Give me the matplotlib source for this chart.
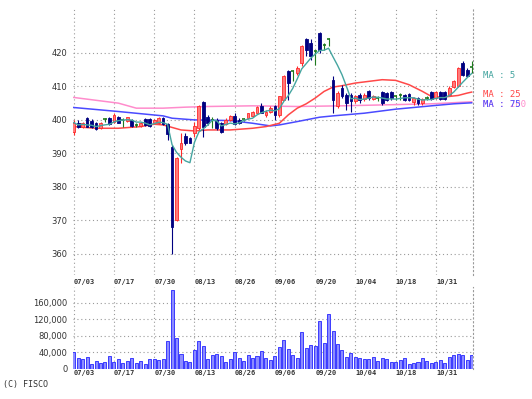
import matplotlib
matplotlib.use("Agg")
import matplotlib.pyplot as plt
import numpy as np
import pandas as pd

# daily candles, 2019-07-03 .. 2019-11-13
opens = [396.3, 399.2, 398.0, 400.5, 399.8, 399.2, 397.5, 400.2, 400.5, 399.5,
         401.0, 400.0, 399.8, 400.0, 398.5, 398.2, 400.2, 400.2, 399.2, 399.0,
         400.5, 398.8, 392.0, 370.0, 391.2, 395.2, 394.5, 396.2, 397.5, 405.2,
         401.0, 400.0, 400.0, 399.0, 398.8, 400.0, 401.2, 400.0, 400.2, 400.5,
         401.2, 402.2, 404.0, 401.5, 402.5, 404.0, 401.5, 406.0, 414.5, 414.5,
         414.0, 417.0, 424.2, 423.0, 420.5, 426.0, 422.5, 424.0, 412.0, 404.0,
         409.5, 407.5, 407.5, 405.5, 407.5, 406.2, 408.5, 406.2, 406.5, 408.2,
         408.0, 408.2, 407.0, 407.5, 407.5, 407.7, 405.2, 406.5, 405.0, 406.5,
         408.2, 406.5, 408.3, 408.2, 407.5, 409.8, 410.0, 417.0, 415.0, 415.8]
highs = [400.0, 400.0, 399.5, 401.0, 400.2, 399.5, 399.5, 400.5, 401.0, 402.0,
         401.2, 400.5, 401.0, 400.3, 399.0, 399.5, 400.5, 400.5, 400.2, 401.0,
         401.0, 399.2, 392.5, 389.0, 396.0, 396.0, 395.0, 399.5, 404.5, 405.5,
         401.5, 401.0, 400.5, 399.5, 400.5, 401.5, 402.0, 400.5, 400.5, 402.2,
         402.8, 404.2, 405.0, 403.0, 404.0, 404.5, 407.2, 413.5, 415.0, 415.0,
         416.0, 422.5, 424.5, 424.0, 421.0, 426.2, 423.0, 424.5, 413.0, 408.5,
         410.5, 408.0, 408.0, 407.5, 408.0, 408.0, 408.8, 407.5, 407.0, 408.5,
         408.3, 408.5, 407.5, 408.0, 407.8, 408.0, 406.8, 406.8, 406.5, 407.0,
         408.5, 408.5, 408.5, 408.5, 410.0, 411.8, 415.8, 417.5, 415.5, 417.5]
lows = [395.5, 397.5, 397.5, 397.8, 397.5, 397.0, 397.2, 399.5, 398.5, 399.2,
        399.0, 398.0, 399.5, 398.0, 398.0, 398.0, 398.2, 398.0, 399.0, 398.8,
        398.5, 394.0, 360.0, 369.8, 387.0, 392.5, 393.0, 395.0, 397.0, 395.0,
        398.5, 397.5, 397.0, 396.0, 398.5, 399.8, 398.5, 398.8, 399.8, 400.3,
        401.0, 402.0, 402.0, 401.0, 402.0, 400.0, 401.0, 405.8, 406.0, 411.5,
        413.5, 416.0, 419.0, 418.0, 416.5, 420.0, 421.0, 422.0, 402.0, 403.5,
        406.5, 403.0, 402.5, 405.0, 405.0, 405.5, 406.0, 406.0, 405.5, 404.5,
        405.5, 406.0, 406.0, 406.0, 405.5, 405.5, 404.5, 404.5, 404.5, 406.0,
        406.0, 406.2, 406.0, 406.0, 407.3, 409.5, 409.8, 413.0, 412.8, 414.0]
closes = [399.2, 397.8, 399.0, 398.0, 398.0, 397.2, 399.2, 400.2, 398.8, 401.5,
          399.2, 400.0, 400.8, 398.2, 398.5, 399.2, 398.5, 398.2, 400.0, 400.5,
          398.8, 395.8, 368.0, 388.5, 393.2, 393.2, 393.2, 398.2, 404.2, 398.0,
          399.0, 400.0, 397.5, 396.5, 400.0, 401.2, 398.8, 399.0, 400.2, 402.0,
          402.5, 403.8, 402.2, 402.5, 403.5, 401.5, 407.0, 413.2, 411.0, 414.5,
          415.5, 422.0, 421.0, 419.0, 420.5, 421.0, 422.5, 424.0, 406.0, 408.0,
          407.0, 405.0, 405.5, 407.0, 406.0, 407.5, 406.5, 407.2, 406.5, 405.0,
          406.0, 406.5, 407.0, 407.5, 406.0, 406.0, 406.5, 405.0, 406.2, 406.5,
          406.2, 408.2, 406.2, 406.2, 409.5, 411.5, 415.5, 413.5, 413.0, 415.8]
volumes = [40000, 26000, 23000, 28000, 12000, 19000, 14000, 15000, 30000, 15000,
           22000, 14000, 19000, 26000, 14000, 18000, 12000, 22000, 22000, 21000,
           22000, 66000, 192000, 74000, 36000, 18000, 16000, 44000, 68000, 54000,
           24000, 32000, 36000, 30000, 16000, 24000, 40000, 26000, 18000, 32000,
           26000, 30000, 42000, 26000, 20000, 30000, 52000, 70000, 48000, 34000,
           26000, 88000, 50000, 58000, 54000, 116000, 62000, 132000, 92000, 60000,
           46000, 28000, 38000, 28000, 26000, 22000, 22000, 28000, 18000, 26000,
           24000, 16000, 16000, 20000, 26000, 12000, 14000, 16000, 26000, 18000,
           14000, 16000, 20000, 14000, 28000, 32000, 36000, 34000, 20000, 32000]

# moving averages (longer windows need history not shown)
ma25_idx = [0, 5, 10, 15, 18, 20, 24, 27, 30, 35, 40, 43, 46, 48, 50, 52, 54, 56,
            58, 60, 63, 66, 69, 72, 75, 78, 80, 82, 84, 86, 88, 89]
ma25_val = [398.0, 397.5, 397.5, 398.0, 398.7, 398.5, 397.0, 396.7, 397.0, 397.0,
            397.5, 398.0, 399.0, 401.5, 403.5, 404.8, 406.5, 408.5, 409.8, 410.2,
            411.0, 411.5, 412.0, 411.8, 410.5, 408.5, 407.0, 406.8, 407.0, 407.3,
            408.0, 408.3]
ma75_idx = [0, 10, 20, 22, 27, 35, 40, 44, 46, 50, 55, 58, 65, 72, 80, 85, 89]
ma75_val = [403.7, 402.5, 401.2, 400.5, 400.0, 399.8, 399.0, 398.2, 398.5, 399.5,
            400.8, 401.2, 402.0, 403.2, 404.2, 404.8, 405.1]
ma200_idx = [0, 10, 14, 20, 25, 30, 40, 50, 60, 70, 80, 89]
ma200_val = [406.7, 405.0, 403.5, 403.5, 403.8, 404.0, 404.2, 404.0, 404.2, 404.5,
             404.8, 405.4]

tick_pos = [0, 9, 18, 27, 36, 45, 54, 63, 72, 81]
tick_labels = ["07/03", "07/17", "07/30", "08/13", "08/26",
               "09/06", "09/20", "10/04", "10/18", "10/31"]
price_ticks = [360, 370, 380, 390, 400, 410, 420]
vol_ticks = [0, 40000, 80000, 120000, 160000]
vol_labels = ["0", "40,000", "80,000", "120,000", "160,000"]

df = pd.DataFrame({"o": opens, "h": highs, "l": lows, "c": closes, "v": volumes})
df["ma5"] = df["c"].rolling(5, min_periods=1).mean()
x = np.arange(len(df))

RED, NAVY, GREEN = "#ff2a2a", "#000080", "#1e7a1e"
grid_kw = dict(color="#9a9a9a", linestyle=(0, (1, 2.5)), linewidth=0.8)
date_font = dict(family="DejaVu Sans Mono", fontsize=5, fontweight="bold", color="#333333")

fig = plt.figure(figsize=(5.32, 3.99), dpi=100)
ax = fig.add_axes([73 / 532, 1 - 275 / 399, 400 / 532, 267 / 399])
axv = fig.add_axes([73 / 532, 1 - 368.5 / 399, 400 / 532, 82 / 399])

# price panel
ax.plot(ma200_idx, ma200_val, color="#ff8ccc", lw=1.1, zorder=2)
ax.plot(ma75_idx, ma75_val, color="#4a4aff", lw=1.1, zorder=2)
ax.plot(ma25_idx, ma25_val, color="#ff4848", lw=1.1, zorder=2)

up = df["c"] > df["o"]
down = df["c"] < df["o"]
flat = df["c"] == df["o"]
ax.vlines(x[up], df["l"][up], df["h"][up], color=RED, lw=0.8, zorder=3)
ax.vlines(x[down], df["l"][down], df["h"][down], color=NAVY, lw=0.8, zorder=3)
ax.vlines(x[flat], df["l"][flat], df["h"][flat], color=GREEN, lw=0.8, zorder=3)
ax.bar(x[up], (df["c"] - df["o"])[up], bottom=df["o"][up], width=0.62,
       color="#ff7a7a", edgecolor=RED, linewidth=0.6, zorder=4)
ax.bar(x[down], (df["o"] - df["c"])[down], bottom=df["c"][down], width=0.62,
       color=NAVY, edgecolor=NAVY, linewidth=0.6, zorder=4)
ax.hlines(df["c"][flat], x[flat] - 0.35, x[flat] + 0.35, color=GREEN, lw=1.2, zorder=4)

ax.plot(x, df["ma5"], color="#45a5a0", lw=1.0, zorder=5)

ax.set_xlim(-0.15, 89.3)
ax.set_ylim(353.7, 433.4)
ax.set_yticks(price_ticks)
ax.set_yticklabels([str(t) for t in price_ticks], fontsize=6, color="#333333")
ax.set_xticks(tick_pos)
ax.set_xticklabels(tick_labels, ha="left", **date_font)
ax.tick_params(length=0, pad=4)
ax.tick_params(axis="x", pad=3)
ax.grid(True, **grid_kw)

# volume panel
axv.bar(x, df["v"], width=0.68, color="#8c8cff", edgecolor="#3a3aff", linewidth=0.7, zorder=3)
axv.set_xlim(-0.15, 89.3)
axv.set_ylim(0, 200000)
axv.set_yticks(vol_ticks)
axv.set_yticklabels(vol_labels, fontsize=6, color="#333333")
axv.set_xticks(tick_pos)
axv.set_xticklabels(tick_labels, ha="left", **date_font)
axv.tick_params(length=0, pad=4)
axv.tick_params(axis="x", pad=1)
axv.grid(True, **grid_kw)

for a in (ax, axv):
    for side in ("top", "bottom", "left"):
        a.spines[side].set_visible(False)
    a.spines["right"].set_linestyle((0, (1, 2.5)))
    a.spines["right"].set_color("#9a9a9a")
    a.spines["right"].set_linewidth(0.8)

# labels for the average lines
lab_font = dict(family="DejaVu Sans Mono", fontsize=6.5, va="center")
fig.text(483 / 532, 1 - 75 / 399, "MA : 5", color="#45a5a0", **lab_font)
fig.text(483 / 532, 1 - 94.5 / 399, "MA : 25", color="#ff4848", **lab_font)
fig.text(483 / 532, 1 - 104.5 / 399, "MA : 200", color="#ff8ccc", **lab_font)
fig.text(483 / 532, 1 - 104.5 / 399, "MA : 75", color="#4a4aff", **lab_font)

fig.text(3 / 532, 1 - 385 / 399, "(C) FISCO", family="DejaVu Sans Mono", fontsize=6,
         color="#333333", va="center")

fig.savefig("out.png", dpi=100)
